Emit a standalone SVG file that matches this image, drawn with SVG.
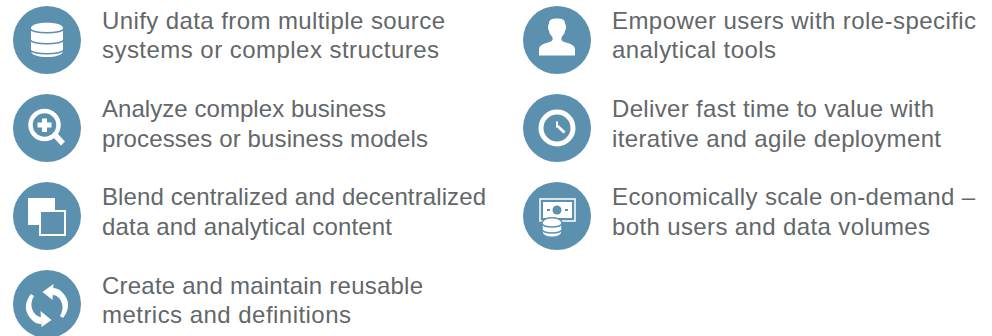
<svg xmlns="http://www.w3.org/2000/svg" width="992" height="336" viewBox="0 0 992 336">
<style>
.bg{fill:#5b90ae}
.w{fill:#fff}
.cut{fill:#5b90ae}
.ln{fill:none;stroke:#fff}
.sep{fill:none;stroke:#5b90ae;stroke-width:1.500}
text{font-family:"Liberation Sans",Arial,sans-serif;font-size:24px;fill:#63676a}
</style>
<rect width="992" height="336" fill="#fff"/>
<g id="n1"><circle class="bg" cx="47" cy="40" r="34"/>
<path class="w" d="M31 28c0-7 32-7 32 0v23c0 8-32 8-32 0z"/>
<path class="sep" d="M30 29c4 5 30 5 34 0M30 40c4 5 30 5 34 0M30 50c4 5 30 5 34 0"/>
<text x="102" y="29" textLength="343">Unify data from multiple source</text><text x="102" y="58" textLength="337">systems or complex structures</text></g>
<g id="n2"><circle class="bg" cx="47" cy="128" r="34"/>
<circle class="ln" cx="44.500" cy="125" r="14" stroke-width="4.500"/>
<path class="ln" d="M55 135l8 8.500" stroke-width="5.500"/>
<path class="w" d="M42 118.500h5v4h4.500v5h-4.500v4.500h-5v-4.500h-4.500v-5h4.500z"/>
<text x="102" y="117" textLength="284">Analyze complex business</text><text x="102" y="147" textLength="326">processes or business models</text></g>
<g id="n3"><circle class="bg" cx="47" cy="216" r="34"/>
<rect class="w" x="28" y="198" width="27" height="27"/>
<rect class="cut" x="40" y="211" width="25" height="24" stroke="#fff" stroke-width="2"/>
<text x="102" y="205" textLength="384">Blend centralized and decentralized</text><text x="102" y="235" textLength="290">data and analytical content</text></g>
<g id="n4"><circle class="bg" cx="47" cy="304" r="34"/>
<path class="w" d="M31 294c-7 9-7 18 1 26 3 3 6 4 9 4v-7c-2 0-4-1-6-3-4-5-5-11-1-18z"/>
<path class="w" d="M51.500 320l-11-9 1 16z"/>
<path class="w" d="M63 318c7-9 7-18-1-26-3-3-6-4-9-4v7c2 0 4 1 6 3 4 5 5 11 1 18z"/>
<path class="w" d="M42.500 292l11-8-1 16z"/>
<text x="102" y="294" textLength="321">Create and maintain reusable</text><text x="102" y="323" textLength="249">metrics and definitions</text></g>
<g id="n5"><circle class="bg" cx="557" cy="40" r="34"/>
<path class="w" d="M539 55.500v-6c0-5 6-6 12-8 2-1 2-3 1-5-2-2-3-4-3-6-1-1-1-2-1-4 0-2 1-2 1-3 0-4 3-5 8-5s8 1 8 5c0 1 1 1 1 3 0 2 0 3-1 4 0 2-1 4-3 6-1 2-1 4 1 5 6 2 12 3 12 8v6z"/>
<text x="612" y="29" textLength="364">Empower users with role-specific</text><text x="612" y="58" textLength="164">analytical tools</text></g>
<g id="n6"><circle class="bg" cx="557" cy="128" r="34"/>
<circle class="ln" cx="557" cy="128" r="16" stroke-width="5"/>
<path class="ln" d="M557.500 126l7 6.500" stroke-width="2.800"/><path class="ln" d="M557 121.500v6" stroke-width="2"/>
<text x="612" y="117" textLength="322">Deliver fast time to value with</text><text x="612" y="147" textLength="329">iterative and agile deployment</text></g>
<g id="n7"><circle class="bg" cx="557" cy="216" r="34"/>
<rect class="ln" x="540" y="199" width="35" height="22" stroke-width="1.500"/>
<rect class="w" x="543" y="202" width="29" height="16"/>
<circle class="cut" cx="557" cy="210" r="4.500"/>
<rect class="cut" x="547" y="209" width="3" height="2"/><rect class="cut" x="565" y="209" width="3" height="2"/>
<path class="w" stroke="#5b90ae" stroke-width="1.500" d="M542 223c0-7 20-7 20 0v9c0 7-20 7-20 0z"/>
<path class="sep" d="M542 224c3 4 17 4 20 0M542 230c3 4 17 4 20 0"/>
<text x="612" y="205" textLength="363">Economically scale on-demand –</text><text x="612" y="235" textLength="318">both users and data volumes</text></g>
</svg>
